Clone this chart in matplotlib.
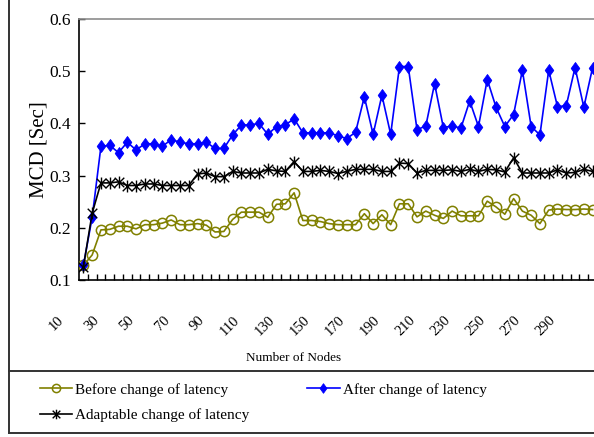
import matplotlib
matplotlib.use("Agg")
import matplotlib.pyplot as plt
import matplotlib.transforms as mtransforms
from matplotlib.path import Path
from matplotlib.lines import Line2D

# ---- data -------------------------------------------------------------
nodes = list(range(10, 305, 5))

before_change = [
    0.128, 0.148, 0.196, 0.197, 0.203, 0.203, 0.198, 0.206, 0.206, 0.209,
    0.215, 0.206, 0.206, 0.208, 0.205, 0.192, 0.193, 0.216, 0.230, 0.230,
    0.230, 0.220, 0.245, 0.246, 0.267, 0.214, 0.214, 0.212, 0.208, 0.206,
    0.206, 0.206, 0.227, 0.208, 0.225, 0.206, 0.246, 0.246, 0.221, 0.232,
    0.224, 0.218, 0.232, 0.223, 0.223, 0.223, 0.251, 0.240, 0.226, 0.256,
    0.232, 0.224, 0.208, 0.234, 0.236, 0.235, 0.235, 0.236, 0.235,
]

after_change = [
    0.128, 0.220, 0.356, 0.358, 0.344, 0.364, 0.349, 0.361, 0.361, 0.356,
    0.369, 0.364, 0.361, 0.361, 0.364, 0.352, 0.352, 0.378, 0.397, 0.397,
    0.400, 0.379, 0.394, 0.397, 0.409, 0.382, 0.382, 0.382, 0.382, 0.376,
    0.371, 0.383, 0.451, 0.379, 0.454, 0.379, 0.509, 0.509, 0.388, 0.395,
    0.476, 0.392, 0.395, 0.391, 0.443, 0.394, 0.484, 0.431, 0.394, 0.417,
    0.502, 0.394, 0.378, 0.502, 0.432, 0.434, 0.507, 0.431, 0.507,
]

adaptable_change = [
    0.125, 0.228, 0.286, 0.286, 0.288, 0.281, 0.281, 0.284, 0.284, 0.281,
    0.281, 0.281, 0.281, 0.303, 0.305, 0.298, 0.298, 0.308, 0.305, 0.305,
    0.305, 0.312, 0.309, 0.308, 0.327, 0.308, 0.308, 0.310, 0.308, 0.304,
    0.308, 0.312, 0.312, 0.312, 0.308, 0.308, 0.324, 0.323, 0.305, 0.310,
    0.310, 0.310, 0.311, 0.308, 0.312, 0.308, 0.312, 0.311, 0.307, 0.334,
    0.305, 0.305, 0.305, 0.305, 0.311, 0.305, 0.306, 0.312, 0.308,
]

series_labels = ["Before change of latency", "After change of latency",
                 "Adaptable change of latency"]
y_ticks = [0.1, 0.2, 0.3, 0.4, 0.5, 0.6]
x_tick_values = [10, 30, 50, 70, 90, 110, 130, 150, 170, 190, 210, 230, 250, 270, 290]
x_title = "Number of Nodes"
y_title = "MCD [Sec]"

# ---- styling ------------------------------------------------------------
plt.rcParams["font.family"] = ["Liberation Serif", "DejaVu Serif"]

W, H = 594, 437
fig = plt.figure(figsize=(W / 100, H / 100), dpi=100)


def fx(px):
    return px / W


def fy(py):
    return 1 - py / H


# plot area (extends a little past the right edge of the canvas)
ax = fig.add_axes([fx(79), fy(280), 518 / W, 261 / H])

diamond = Path([(0, 1), (0.72, 0), (0, -1), (-0.72, 0), (0, 1)],
               [Path.MOVETO, Path.LINETO, Path.LINETO, Path.LINETO, Path.CLOSEPOLY])
asterisk = Path([(-0.8, -0.8), (0.8, 0.8), (-0.8, 0.8), (0.8, -0.8), (0, -1), (0, 1)],
                [Path.MOVETO, Path.LINETO, Path.MOVETO, Path.LINETO, Path.MOVETO, Path.LINETO])

olive = "#808000"
blue = "#0000FF"

h_before, = ax.plot(nodes, before_change, color=olive, lw=1.2, marker="o", ms=7.4,
                    mfc="none", mec=olive, mew=1.1, zorder=3)
h_after, = ax.plot(nodes, after_change, color=blue, lw=1.2, marker=diamond, ms=8.6,
                   mfc=blue, mec=blue, mew=0.6, zorder=4)
h_adapt, = ax.plot(nodes, adaptable_change, color="black", lw=1.2, marker=asterisk, ms=8.6,
                   fillstyle="none", mec="black", mew=1.0, zorder=5)

ax.set_xlim(nodes[0] - 2.5, nodes[-1] + 2.5)
ax.set_ylim(y_ticks[0], y_ticks[-1])

ax.set_yticks(y_ticks)
ax.set_yticklabels([f"{v:.1f}" for v in y_ticks])
ax.tick_params(axis="y", direction="in", length=4, width=1, pad=6, labelsize=12.5)

ax.set_xticks(x_tick_values)
ax.set_xticklabels([str(v) for v in x_tick_values], rotation=45, ha="right",
                   va="top", rotation_mode="anchor")
ax.set_xticks([n + 2.5 for n in nodes[:-1]], minor=True)
ax.tick_params(axis="x", which="major", length=0, pad=24, labelsize=10.5)
ax.tick_params(axis="x", which="minor", direction="in", length=4, width=1)

shift = mtransforms.ScaledTranslation(-26 / 100, 0, fig.dpi_scale_trans)
for lbl in ax.get_xticklabels():
    lbl.set_transform(lbl.get_transform() + shift)

for side in ("left", "bottom"):
    ax.spines[side].set_color("black")
    ax.spines[side].set_linewidth(1.2)
ax.spines["top"].set_color("#8c8c8c")
ax.spines["top"].set_linewidth(1.2)
ax.spines["right"].set_visible(False)

ax.set_xlabel(x_title, fontsize=9.5)
ax.xaxis.set_label_coords((294 - 79) / 518, -72 / 261)
ax.set_ylabel(y_title, fontsize=15)
ax.yaxis.set_label_coords((49 - 79) / 518, 0.5)

# chart frame and legend box
frame_kw = dict(color="#333333", lw=1.4, transform=fig.transFigure)
fig.add_artist(Line2D([fx(8.5), fx(8.5)], [fy(433), 1.0], **frame_kw))
fig.add_artist(Line2D([fx(8.5), 1.0], [fy(433), fy(433)], **frame_kw))
fig.add_artist(Line2D([fx(8.5), 1.0], [fy(371), fy(371)], **frame_kw))

fig.legend([h_before, h_adapt, h_after],
           [series_labels[0], series_labels[2], series_labels[1]],
           loc="upper left", bbox_to_anchor=(fx(40), fy(383)), ncol=2,
           frameon=False, fontsize=11, handlelength=2.1, handletextpad=0.2,
           labelspacing=0.78, columnspacing=3.8, borderpad=0, borderaxespad=0,
           numpoints=1, markerscale=0.8)

fig.savefig("out.png", dpi=100)
